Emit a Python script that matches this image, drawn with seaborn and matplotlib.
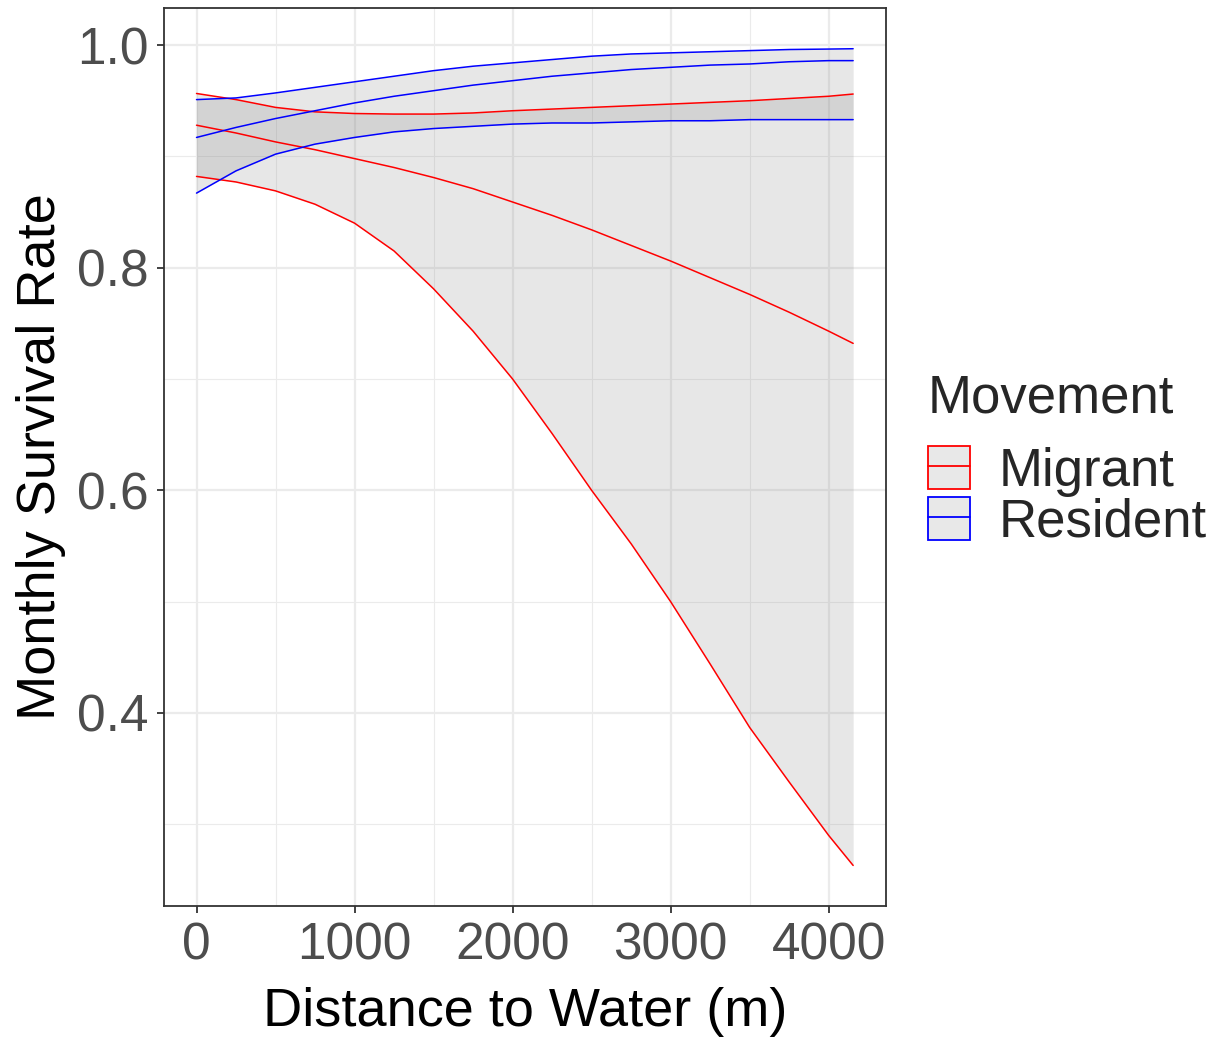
import numpy as np
import pandas as pd
import matplotlib
matplotlib.use('Agg')
import matplotlib.pyplot as plt
import seaborn as sns
from matplotlib.patches import Patch
from matplotlib.lines import Line2D

# values
distance = [0, 250, 500, 750, 1000, 1250, 1500, 1750, 2000, 2250, 2500, 2750,
            3000, 3250, 3500, 3750, 4000, 4155]

migrant_fit = [0.928, 0.921, 0.913, 0.906, 0.898, 0.890, 0.881, 0.871, 0.859,
               0.847, 0.834, 0.820, 0.806, 0.791, 0.776, 0.760, 0.743, 0.732]
migrant_lo = [0.882, 0.877, 0.869, 0.857, 0.840, 0.815, 0.781, 0.743, 0.700,
              0.651, 0.600, 0.552, 0.500, 0.444, 0.387, 0.338, 0.290, 0.263]
migrant_hi = [0.9565, 0.951, 0.944, 0.940, 0.9385, 0.938, 0.938, 0.939, 0.941,
              0.9425, 0.944, 0.9455, 0.947, 0.9485, 0.950, 0.952, 0.954, 0.956]

resident_fit = [0.917, 0.926, 0.934, 0.941, 0.948, 0.954, 0.959, 0.964, 0.968,
                0.972, 0.975, 0.978, 0.980, 0.982, 0.983, 0.985, 0.986, 0.986]
resident_lo = [0.867, 0.887, 0.902, 0.911, 0.917, 0.922, 0.925, 0.927, 0.929,
               0.930, 0.930, 0.931, 0.932, 0.932, 0.933, 0.933, 0.933, 0.933]
resident_hi = [0.951, 0.9525, 0.957, 0.962, 0.967, 0.972, 0.977, 0.981, 0.984,
               0.987, 0.990, 0.992, 0.993, 0.994, 0.995, 0.996, 0.9964, 0.9967]

groups = ['Migrant', 'Resident']
colors = {'Migrant': '#FF0000', 'Resident': '#0000FF'}

series = {
    'Migrant': (migrant_fit, migrant_lo, migrant_hi),
    'Resident': (resident_fit, resident_lo, resident_hi),
}

# long form table: one row per point and per line (fit / lower / upper)
rows = []
for g in groups:
    for kind, vals in zip(['fit', 'lo', 'hi'], series[g]):
        for d, v in zip(distance, vals):
            rows.append({'Distance': d, 'Survival': v, 'Movement': g,
                         'line': g + '_' + kind})
df = pd.DataFrame(rows)

sns.set_theme(style='white')
plt.rcParams['font.family'] = ['Liberation Sans', 'DejaVu Sans']

fig = plt.figure(figsize=(12.18, 10.38), dpi=100)
ax = fig.add_axes([0.1344, 0.1272, 0.5930, 0.8651])

# ribbons first
for g in groups:
    fit, lo, hi = series[g]
    ax.fill_between(distance, lo, hi, color='#7B7B7B', alpha=0.175,
                    linewidth=0, zorder=2)

palette = {}
for g in groups:
    for kind in ['fit', 'lo', 'hi']:
        palette[g + '_' + kind] = colors[g]

sns.lineplot(data=df, x='Distance', y='Survival', hue='line', palette=palette,
             estimator=None, sort=False, linewidth=1.1, legend=False, ax=ax,
             zorder=3)

# ggplot theme_bw look
ax.set_xlim(-207.75, 4362.75)
ax.set_ylim(0.2266, 1.0333)
ax.set_xticks([0, 1000, 2000, 3000, 4000])
ax.set_xticks([500, 1500, 2500, 3500], minor=True)
ax.set_yticks([0.4, 0.6, 0.8, 1.0])
ax.set_yticks([0.3, 0.5, 0.7, 0.9], minor=True)
ax.set_yticklabels(['0.4', '0.6', '0.8', '1.0'])
ax.grid(True, which='major', color='#EBEBEB', linewidth=1.6, zorder=0)
ax.grid(True, which='minor', color='#EBEBEB', linewidth=0.8, zorder=0)
ax.set_axisbelow(True)
for s in ax.spines.values():
    s.set_color('#333333')
    s.set_linewidth(1.3)
ax.tick_params(which='major', direction='out', length=5, width=1.3,
               color='#333333', labelcolor='#4D4D4D', labelsize=37,
               bottom=True, left=True)
ax.tick_params(axis='x', pad=6)
ax.tick_params(axis='y', pad=6)
ax.tick_params(which='minor', length=0)

ax.set_xlabel('Distance to Water (m)', fontsize=39, color='black', labelpad=12)
ax.set_ylabel('Monthly Survival Rate', fontsize=39, color='black', labelpad=8)

handles = [(Patch(facecolor='#E8E8E8', edgecolor=colors[g], linewidth=1.3),
            Line2D([0], [0], color=colors[g], linewidth=1.3)) for g in groups]
leg = fig.legend(handles, groups, title='Movement', loc='center left',
                 bbox_to_anchor=(0.762, 0.556), frameon=False, fontsize=38,
                 title_fontsize=38, handlelength=0.8, handleheight=0.89,
                 handletextpad=0.53, labelspacing=0.0, borderaxespad=0,
                 borderpad=0)
leg._legend_box.align = 'left'
leg._legend_box.sep = 16

fig.savefig('out.png', dpi=100)
